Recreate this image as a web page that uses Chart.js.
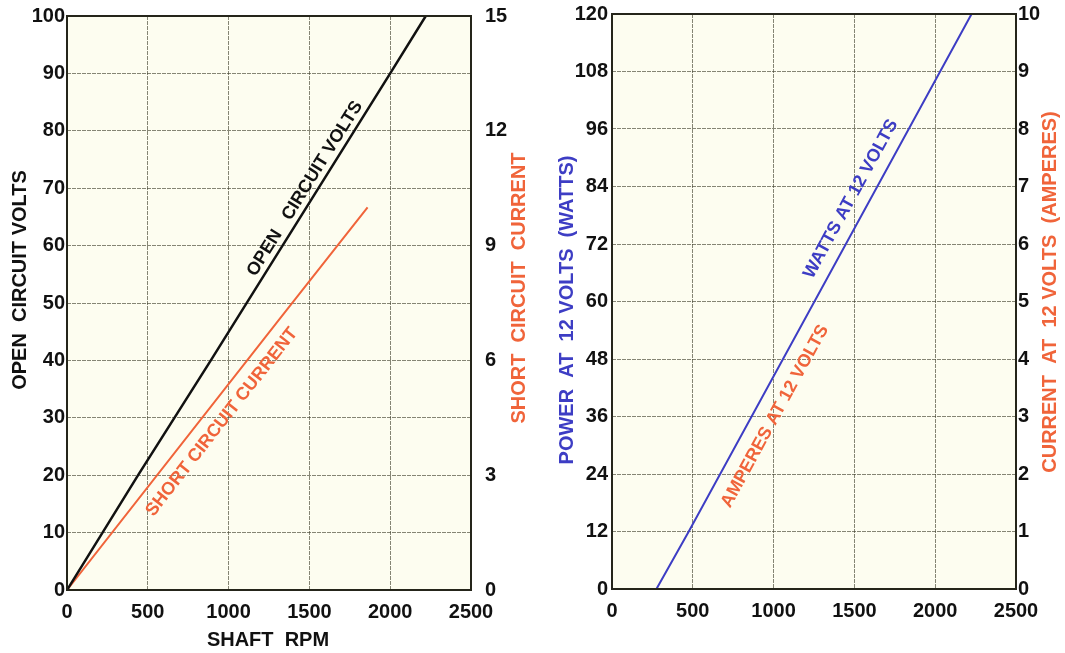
<!DOCTYPE html>
<html>
<head>
<meta charset="utf-8">
<script src="https://cdn.jsdelivr.net/npm/chart.js@4.4.1/dist/chart.umd.min.js"></script>
<style>
  html, body { margin: 0; padding: 0; background: #fff; }
  #wrap { position: relative; width: 1065px; height: 653px; overflow: hidden; }
  .box { position: absolute; top: 0; height: 653px; }
  #leftBox { left: 0; width: 532px; }
  #rightBox { left: 532px; width: 533px; }
</style>
</head>
<body>
<div id="wrap">
  <div class="box" id="leftBox"><canvas id="leftChart"></canvas></div>
  <div class="box" id="rightBox"><canvas id="rightChart"></canvas></div>
</div>
<script>
// Eje X comun: rpm del eje
const rpmTicks = [0, 500, 1000, 1500, 2000, 2500];

// Grafico izquierdo: voltios en circuito abierto / corriente de cortocircuito
const voltTicks = [0, 10, 20, 30, 40, 50, 60, 70, 80, 90, 100];
const shortAmpTicks = [0, 3, 6, 9, 12, 15];
const openRpm = [0, 440, 890, 2000, 2220];
const openVolts = [0, 20, 40, 90, 100];
const shortRpm = [0, 1310, 1860];
const shortAmps = [0, 7.05, 10];

// Grafico derecho: potencia y corriente a 12 voltios
const wattTicks = [0, 12, 24, 36, 48, 60, 72, 84, 96, 108, 120];
const ampTicks = [0, 1, 2, 3, 4, 5, 6, 7, 8, 9, 10];
const wattRpm = [275, 475, 2225];
const watts = [0, 12, 120];

const FONT = '"Liberation Sans", Arial, sans-serif';
const BLACK = '#111111';
const ORANGE = '#f0643a';
const BLUE = '#3d3dc4';
const GRID = 'rgba(60, 60, 40, 0.62)';

function pts(xs, ys) {
    return xs.map((x, i) => ({ x: x, y: ys[i] }));
}

function fixedTicks(list) {
    return function(scale) {
        scale.ticks = list.map(v => ({ value: v }));
    };
}

// Fondo crema, marco y titulos de los ejes
const framePlugin = {
    id: 'frame',
    beforeDraw(chart) {
        const { ctx, chartArea: a } = chart;
        ctx.save();
        ctx.fillStyle = '#fdfdf0';
        ctx.fillRect(a.left, a.top, a.right - a.left, a.bottom - a.top);
        ctx.restore();
    },
    afterDraw(chart, args, opts) {
        const { ctx, chartArea: a } = chart;
        ctx.save();
        ctx.strokeStyle = '#25251a';
        ctx.lineWidth = 2;
        ctx.strokeRect(a.left, a.top, a.right - a.left, a.bottom - a.top);
        ctx.font = 'bold 20px ' + FONT;
        ctx.textAlign = 'center';
        ctx.textBaseline = 'middle';
        (opts.titles || []).forEach(t => {
            ctx.save();
            ctx.translate(t.x, t.y);
            ctx.rotate(t.rot || 0);
            ctx.fillStyle = t.color;
            ctx.fillText(t.text, 0, 0);
            ctx.restore();
        });
        ctx.restore();
    }
};

// Rotulos inclinados a lo largo de las rectas
const lineLabelPlugin = {
    id: 'lineLabels',
    afterDatasetsDraw(chart, args, opts) {
        const { ctx } = chart;
        const xs = chart.scales.x;
        (opts.items || []).forEach(it => {
            const ds = chart.data.datasets[it.dataset];
            const ys = chart.scales[ds.yAxisID];
            const p0 = ds.data[0];
            const p1 = ds.data[ds.data.length - 1];
            const x0 = xs.getPixelForValue(p0.x), y0 = ys.getPixelForValue(p0.y);
            const x1 = xs.getPixelForValue(p1.x), y1 = ys.getPixelForValue(p1.y);
            const ang = Math.atan2(y1 - y0, x1 - x0);
            const t = (it.at - p0.x) / (p1.x - p0.x);
            const px = x0 + t * (x1 - x0) + Math.sin(ang) * it.offset;
            const py = y0 + t * (y1 - y0) - Math.cos(ang) * it.offset;
            ctx.save();
            ctx.translate(px, py);
            ctx.rotate(ang);
            ctx.font = 'bold 18px ' + FONT;
            ctx.fillStyle = it.color;
            ctx.textAlign = 'center';
            ctx.textBaseline = 'middle';
            ctx.fillText(it.text, 0, 0);
            ctx.restore();
        });
    }
};

const tickFont = { family: FONT, size: 20, weight: 'bold' };
const UP = -Math.PI / 2;

// la separacion de las etiquetas va en tickLength (marcas invisibles),
// asi no empuja el area del grafico hacia abajo
function xAxis(height) {
    return {
        type: 'linear',
        min: 0,
        max: 2500,
        afterBuildTicks: fixedTicks(rpmTicks),
        afterFit: s => { s.height = height; },
        grid: { color: GRID, lineWidth: 1, drawTicks: true, tickLength: 10, tickColor: 'transparent' },
        border: { display: false, dash: [4, 1] },
        ticks: { color: BLACK, padding: 0, maxRotation: 0, autoSkip: false, font: tickFont, callback: v => String(v) }
    };
}

function yAxis(pos, min, max, list, width, gap, grid) {
    return {
        type: 'linear',
        position: pos,
        min: min,
        max: max,
        afterBuildTicks: fixedTicks(list),
        afterFit: s => { s.width = width; },
        grid: { color: GRID, lineWidth: 1, drawTicks: true, tickLength: gap, tickColor: 'transparent', drawOnChartArea: grid },
        border: { display: false, dash: [4, 1] },
        ticks: { color: BLACK, padding: 0, autoSkip: false, font: tickFont, callback: v => String(v) }
    };
}

const common = {
    responsive: true,
    maintainAspectRatio: false,
    animation: false,
    devicePixelRatio: 1,
    plugins: { legend: { display: false }, tooltip: { enabled: false } },
    elements: { point: { radius: 0 }, line: { tension: 0 } }
};

new Chart(document.getElementById('leftChart'), {
    type: 'line',
    data: {
        datasets: [
            { label: 'OPEN CIRCUIT VOLTS', data: pts(openRpm, openVolts), yAxisID: 'y', borderColor: BLACK, borderWidth: 2.5 },
            { label: 'SHORT CIRCUIT CURRENT', data: pts(shortRpm, shortAmps), yAxisID: 'y2', borderColor: ORANGE, borderWidth: 2 }
        ]
    },
    options: Object.assign({}, common, {
        layout: { padding: { top: 16, left: 0, right: 0, bottom: 0 } },
        scales: {
            x: xAxis(63),
            y: yAxis('left', 0, 100, voltTicks, 67, 2, true),
            y2: yAxis('right', 0, 15, shortAmpTicks, 61, 14, false)
        },
        plugins: Object.assign({}, common.plugins, {
            frame: {
                titles: [
                    { text: 'OPEN  CIRCUIT VOLTS', color: BLACK, x: 20, y: 280, rot: UP },
                    { text: 'SHORT  CIRCUIT  CURRENT', color: ORANGE, x: 519, y: 288, rot: UP },
                    { text: 'SHAFT  RPM', color: BLACK, x: 268, y: 640, rot: 0 }
                ]
            },
            lineLabels: {
                items: [
                    { dataset: 0, at: 1530, offset: 11, text: 'OPEN   CIRCUIT VOLTS', color: BLACK },
                    { dataset: 1, at: 870, offset: -18, text: 'SHORT CIRCUIT CURRENT', color: ORANGE }
                ]
            }
        })
    }),
    plugins: [framePlugin, lineLabelPlugin]
});

new Chart(document.getElementById('rightChart'), {
    type: 'line',
    data: {
        datasets: [
            { label: 'WATTS AT 12 VOLTS', data: pts(wattRpm, watts), yAxisID: 'y', borderColor: BLUE, borderWidth: 2 }
        ]
    },
    options: Object.assign({}, common, {
        layout: { padding: { top: 14, left: 0, right: 0, bottom: 0 } },
        scales: {
            x: xAxis(64),
            y: yAxis('left', 0, 120, wattTicks, 80, 4, true),
            y2: yAxis('right', 0, 10, ampTicks, 49, 2, false)
        },
        plugins: Object.assign({}, common.plugins, {
            frame: {
                titles: [
                    { text: 'POWER  AT  12 VOLTS  (WATTS)', color: BLUE, x: 35, y: 310, rot: UP },
                    { text: 'CURRENT  AT  12 VOLTS  (AMPERES)', color: ORANGE, x: 518, y: 292, rot: UP }
                ]
            },
            lineLabels: {
                items: [
                    { dataset: 0, at: 1570, offset: 17, text: 'WATTS AT 12 VOLTS', color: BLUE },
                    { dataset: 0, at: 895, offset: -21, text: 'AMPERES AT 12 VOLTS', color: ORANGE }
                ]
            }
        })
    }),
    plugins: [framePlugin, lineLabelPlugin]
});
</script>
</body>
</html>
